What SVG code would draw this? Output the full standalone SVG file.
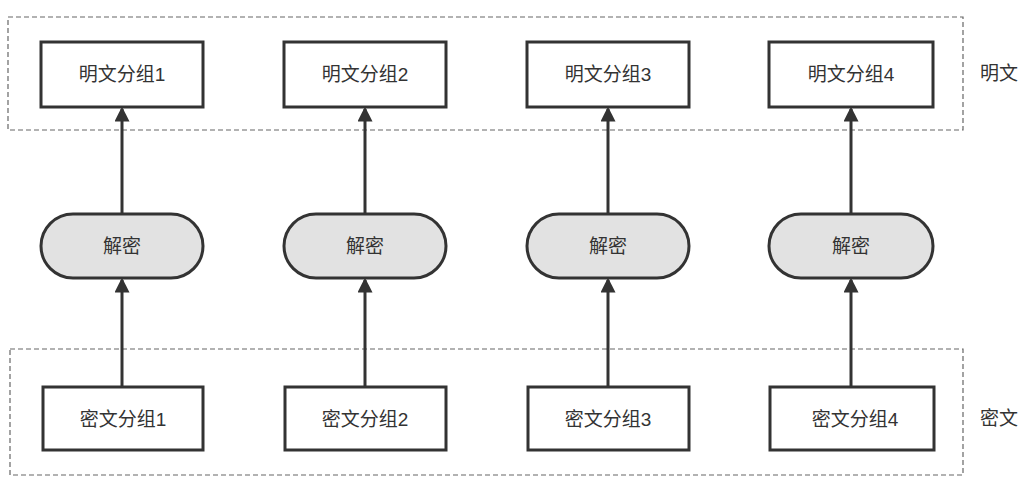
<svg xmlns="http://www.w3.org/2000/svg" width="1028" height="490" viewBox="0 0 1028 490">
<style>
.grp{fill:none;stroke:#666;stroke-width:1.2;stroke-dasharray:5 3}
.box{fill:#fff;stroke:#333;stroke-width:3}
.pill{fill:#e2e2e2;stroke:#333;stroke-width:3}
.t{font-family:"Liberation Sans","Noto Sans CJK SC",sans-serif;font-size:19px;fill:#333;text-anchor:middle;dominant-baseline:central}
.edge{stroke:#333;stroke-width:3;fill:none;marker-end:url(#ah)}
</style>
<defs>
<marker id="ah" markerWidth="5" markerHeight="5" refX="4.2" refY="2.5" orient="auto" markerUnits="strokeWidth">
<path d="M0,0 L5,2.5 L0,5 z" fill="#333"/>
</marker>
</defs>
<rect width="1028" height="490" fill="#fff"/>
<g id="group-plain">
<rect class="grp" x="8" y="17" width="955" height="113"/>
<text class="t" x="999" y="73">明文</text>
</g>
<g id="group-cipher">
<rect class="grp" x="10" y="349" width="953" height="126"/>
<text class="t" x="999" y="418">密文</text>
</g>
<g id="connectors">
<line class="edge" x1="122" y1="387" x2="122" y2="280"/>
<line class="edge" x1="122" y1="214" x2="122" y2="109"/>
<line class="edge" x1="365" y1="387" x2="365" y2="280"/>
<line class="edge" x1="365" y1="214" x2="365" y2="109"/>
<line class="edge" x1="608" y1="387" x2="608" y2="280"/>
<line class="edge" x1="608" y1="214" x2="608" y2="109"/>
<line class="edge" x1="851" y1="387" x2="851" y2="280"/>
<line class="edge" x1="851" y1="214" x2="851" y2="109"/>
</g>
<g id="p1"><rect class="box" x="41" y="42" width="162" height="65"/><text class="t" x="122" y="74">明文分组1</text></g>
<g id="p2"><rect class="box" x="284" y="42" width="162" height="65"/><text class="t" x="365" y="74">明文分组2</text></g>
<g id="p3"><rect class="box" x="527" y="42" width="162" height="65"/><text class="t" x="608" y="74">明文分组3</text></g>
<g id="p4"><rect class="box" x="769" y="42" width="164" height="65"/><text class="t" x="851" y="74">明文分组4</text></g>
<g id="d1"><rect class="pill" x="41" y="214" width="162" height="64" rx="32"/><text class="t" x="122" y="246">解密</text></g>
<g id="d2"><rect class="pill" x="284" y="214" width="162" height="64" rx="32"/><text class="t" x="365" y="246">解密</text></g>
<g id="d3"><rect class="pill" x="527" y="214" width="162" height="64" rx="32"/><text class="t" x="608" y="246">解密</text></g>
<g id="d4"><rect class="pill" x="769" y="214" width="164" height="64" rx="32"/><text class="t" x="851" y="246">解密</text></g>
<g id="c1"><rect class="box" x="43" y="387" width="160" height="63"/><text class="t" x="123" y="419">密文分组1</text></g>
<g id="c2"><rect class="box" x="285" y="387" width="161" height="63"/><text class="t" x="365" y="419">密文分组2</text></g>
<g id="c3"><rect class="box" x="528" y="387" width="161" height="63"/><text class="t" x="608" y="419">密文分组3</text></g>
<g id="c4"><rect class="box" x="770" y="387" width="164" height="63"/><text class="t" x="855" y="419">密文分组4</text></g>
</svg>
